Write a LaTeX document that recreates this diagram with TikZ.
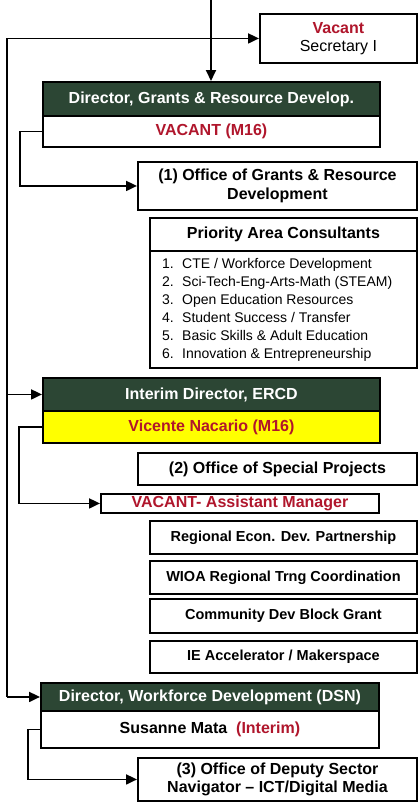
\documentclass[tikz,border=0pt]{standalone}
\usepackage{fontspec}
\setmainfont{Liberation Sans}
\usetikzlibrary{arrows.meta}
\definecolor{vacred}{RGB}{176,22,44}
\definecolor{headgreen}{RGB}{44,70,52}
\definecolor{nameyellow}{RGB}{255,255,0}

\begin{document}
\begin{tikzpicture}[x=1pt, y=-1pt,
    box/.style={draw, line width=1.9pt, fill=white, anchor=north west, inner sep=0pt,
                align=center, font=\bfseries\fontsize{16}{18.5}\selectfont},
    head/.style={box, fill=headgreen, text=white},
    unit/.style={box, minimum width=267, font=\bfseries\fontsize{14.5}{17}\selectfont},
    wire/.style={line width=1.9pt},
    feed/.style={wire, -{Triangle[length=11pt, width=10pt]}},
]
\useasboundingbox (0,0) rectangle (419,809);

% Secretary
\node[box, minimum width=157, minimum height=49] (sec) at (259,13)
  {\color{vacred}Vacant\\\mdseries Secretary I};

% Grants & Resource Development
\node[head, minimum width=337, minimum height=34] (grantsHead) at (42,81) {Director, Grants \& Resource Develop.};
\node[box, minimum width=337, minimum height=31, text=vacred] (grantsName) at (42,115) {VACANT (M16)};
\node[box, minimum width=279, minimum height=48] (office1) at (137,161) {(1) Office of Grants \& Resource\\Development};
\node[box, minimum width=267, minimum height=33] (priHead) at (149,217) {Priority Area Consultants};
\node[box, minimum width=267, minimum height=117] (priList) at (149,250) {};
\foreach \txt [count=\i] in {CTE / Workforce Development, Sci-Tech-Eng-Arts-Math (STEAM),
    Open Education Resources, Student Success / Transfer,
    Basic Skills \& Adult Education, Innovation \& Entrepreneurship}{
  \node[anchor=base west, inner sep=0pt, font=\fontsize{14}{16}\selectfont] (item\i) at (162,250+18*\i)
    {\makebox[20pt][l]{\i.}\txt};
}

% ERCD
\node[head, minimum width=337, minimum height=33] (ercdHead) at (42,377) {Interim Director, ERCD};
\node[box, minimum width=337, minimum height=32, fill=nameyellow, text=vacred] (ercdName) at (42,410) {Vicente Nacario (M16)};
\node[box, minimum width=279, minimum height=32] (office2) at (137,452) {(2) Office of Special Projects};
\node[box, minimum width=278, minimum height=19, text=vacred] (asst) at (100,493) {VACANT- Assistant Manager};
\node[unit, minimum height=33] (redp) at (149,520) {Regional Econ. Dev. Partnership};
\node[unit, minimum height=33] (wioa) at (149,560) {WIOA Regional Trng Coordination};
\node[unit, minimum height=34] (cdbg) at (149,598) {Community Dev Block Grant};
\node[unit, minimum height=32] (ieAcc) at (149,640) {IE Accelerator / Makerspace};

% Workforce Development
\node[head, minimum width=338, minimum height=28] (wfdHead) at (40,682) {Director, Workforce Development (DSN)};
\node[box, minimum width=338, minimum height=37] (wfdName) at (40,710) {Susanne Mata \ {\color{vacred}(Interim)}};
\node[box, minimum width=279, minimum height=43] (office3) at (137,757) {(3) Office of Deputy Sector\\Navigator -- ICT/Digital Media};

% Connectors
\coordinate (top) at (211,0);
\coordinate (spine) at (7,0);
\draw[feed] (top) -- (top |- grantsHead.north);
\draw[wire] (spine |- sec.west) -- (spine |- wfdHead.west);
\draw[feed] (spine |- sec.west) -- (sec.west);
\draw[feed] (spine |- ercdHead.west) -- (ercdHead.west);
\draw[feed] (spine |- wfdHead.west) -- (wfdHead.west);
\draw[feed] (grantsName.west) -- ++(-22,0) |- (office1.west);
\draw[feed] (ercdName.west) -- ++(-23,0) |- (asst.west);
\draw[feed] (wfdName.west) -- ++(-12,0) |- (office3.west);

\end{tikzpicture}
\end{document}
